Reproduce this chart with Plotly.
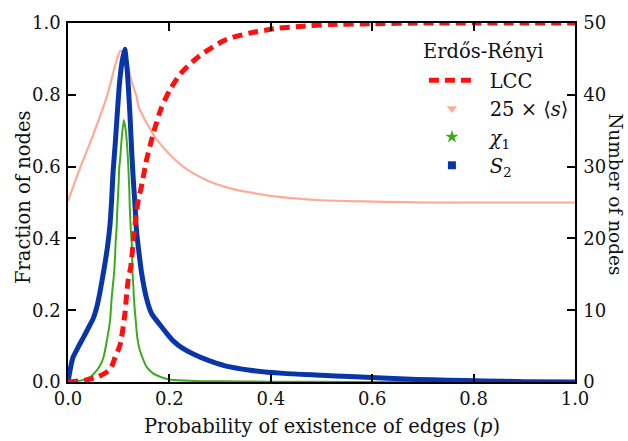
import plotly.graph_objects as go

# ---- data ----
lcc_p = [0, 0.034, 0.06, 0.083, 0.093, 0.103, 0.112, 0.116, 0.119, 0.124, 0.129, 0.135, 0.139, 0.145,
         0.155, 0.168, 0.183, 0.201, 0.221, 0.24, 0.26, 0.28, 0.306, 0.33, 0.359, 0.39, 0.412, 0.464,
         0.517, 0.6, 0.7, 0.8, 0.9, 1.0]
lcc_v = [0.0, 0.005, 0.015, 0.035, 0.069, 0.105, 0.187, 0.25, 0.287, 0.323, 0.396, 0.473, 0.51, 0.546,
         0.619, 0.691, 0.759, 0.814, 0.857, 0.885, 0.909, 0.928, 0.95, 0.962, 0.972, 0.98, 0.985, 0.991,
         0.996, 0.998, 1.0, 1.0, 1.0, 1.0]

s_p = [0, 0.024, 0.05, 0.076, 0.096, 0.104, 0.116, 0.125, 0.135, 0.139, 0.150, 0.162, 0.168, 0.185,
       0.201, 0.227, 0.25, 0.28, 0.293, 0.33, 0.359, 0.379, 0.42, 0.49, 0.55, 0.62, 0.7, 0.8, 0.9, 1.0]
s_v = [0.504, 0.597, 0.69, 0.792, 0.896, 0.923, 0.895, 0.84, 0.796, 0.768, 0.735, 0.705, 0.69, 0.658,
       0.633, 0.600, 0.579, 0.558, 0.551, 0.536, 0.528, 0.523, 0.515, 0.507, 0.504, 0.502, 0.5, 0.5, 0.5, 0.5]

chi_p = [0, 0.015, 0.03, 0.045, 0.057, 0.064, 0.07, 0.076, 0.083, 0.086, 0.088, 0.091, 0.093, 0.094,
         0.096, 0.097, 0.099, 0.100, 0.101, 0.103, 0.106, 0.110, 0.114, 0.117, 0.119, 0.121, 0.122,
         0.124, 0.126, 0.127, 0.129, 0.130, 0.133, 0.137, 0.142, 0.149, 0.155, 0.168, 0.185, 0.2,
         0.25, 0.3, 0.4, 0.5, 0.6, 0.73]
chi_v = [0.0, 0.002, 0.006, 0.015, 0.033, 0.048, 0.069, 0.11, 0.172, 0.232, 0.262, 0.305, 0.355, 0.39,
         0.432, 0.473, 0.528, 0.56, 0.596, 0.623, 0.68, 0.73, 0.70, 0.65, 0.6, 0.53, 0.48,
         0.42, 0.38, 0.314, 0.264, 0.232, 0.18, 0.12, 0.087, 0.06, 0.042, 0.024, 0.013, 0.007,
         0.003, 0.002, 0.001, 0.0005, 0.0002, 0.0]

s2_p = [0, 0.005, 0.01, 0.02, 0.03, 0.04, 0.05, 0.057, 0.063, 0.071, 0.078, 0.083, 0.086, 0.089, 0.093,
        0.096, 0.101, 0.106, 0.112, 0.116, 0.119, 0.122, 0.126, 0.129, 0.132, 0.135, 0.140, 0.145, 0.155,
        0.165, 0.181, 0.195, 0.208, 0.225, 0.247, 0.277, 0.31, 0.359, 0.425, 0.5, 0.556, 0.62, 0.688,
        0.75, 0.82, 0.9, 1.0]
s2_v = [0.0, 0.04, 0.069, 0.097, 0.123, 0.15, 0.178, 0.21, 0.25, 0.314, 0.378, 0.441, 0.505, 0.587, 0.66,
        0.723, 0.823, 0.886, 0.927, 0.88, 0.823, 0.75, 0.632, 0.559, 0.496, 0.423, 0.36, 0.305, 0.232,
        0.19, 0.16, 0.135, 0.114, 0.095, 0.078, 0.06, 0.045, 0.033, 0.024, 0.019, 0.015, 0.011, 0.007,
        0.005, 0.003, 0.001, 0.0]

x_ticks = [0.0, 0.2, 0.4, 0.6, 0.8, 1.0]
y_ticks = [0.0, 0.2, 0.4, 0.6, 0.8, 1.0]
y2_ticks = [0, 10, 20, 30, 40, 50]

legend_title = "Erdős-Rényi"
names = ["LCC", "25 × ⟨<i>s</i>⟩", "<i>χ</i><sub>1</sub>", "<i>S</i><sub>2</sub>"]

RED = "#FF1010"
SALMON = "#FFAA98"
GREEN = "#3DAA1E"
BLUE = "#0836A8"
FONT = "DejaVu Serif"
FS_TICK = 18
FS = 19.5
TXT = "#111111"
PAD = "\u2002"  # visual gap between legend symbol and label

fig = go.Figure()

fig.add_trace(go.Scatter(x=s_p, y=s_v, mode="lines", line=dict(color=SALMON, width=2.2, shape="spline",
                         smoothing=0.8), showlegend=False))
fig.add_trace(go.Scatter(x=chi_p, y=chi_v, mode="lines", line=dict(color=GREEN, width=2, shape="spline",
                         smoothing=0.5), showlegend=False))
fig.add_trace(go.Scatter(x=s2_p, y=s2_v, mode="lines", line=dict(color=BLUE, width=5, shape="spline",
                         smoothing=0.5), showlegend=False))
fig.add_trace(go.Scatter(x=lcc_p, y=lcc_v, mode="lines",
                         line=dict(color=RED, width=5, dash="10px,6px", shape="spline", smoothing=0.6),
                         showlegend=False))

# legend entries
fig.add_trace(go.Scatter(x=[None], y=[None], mode="lines", name=PAD + names[0], legendgroup="a",
                         line=dict(color=RED, width=5, dash="10px,6px")))
fig.add_trace(go.Scatter(x=[None], y=[None], mode="markers", name=PAD + names[1], legendgroup="b",
                         marker=dict(symbol="triangle-down", color=SALMON, size=9)))
fig.add_trace(go.Scatter(x=[None], y=[None], mode="markers", name=PAD + names[2], legendgroup="c",
                         marker=dict(symbol="star", color=GREEN, size=10)))
fig.add_trace(go.Scatter(x=[None], y=[None], mode="markers", name=PAD + names[3], legendgroup="d",
                         marker=dict(symbol="square", color=BLUE, size=8)))
# secondary axis carrier
fig.add_trace(go.Scatter(x=[None], y=[None], yaxis="y2", showlegend=False, hoverinfo="skip"))

axis_common = dict(showline=True, linecolor="black", linewidth=1.5, ticks="inside", ticklen=8,
                   tickwidth=1.5, tickcolor="black", showgrid=False, zeroline=False,
                   tickfont=dict(family=FONT, size=FS_TICK, color=TXT))

fig.update_layout(
    width=628, height=441,
    margin=dict(l=68, r=53, t=15, b=59),
    paper_bgcolor="white", plot_bgcolor="white",
    font=dict(family=FONT, size=FS, color=TXT),
    xaxis=dict(range=[0, 1], tickvals=x_ticks, ticktext=[f"{v:.1f}" for v in x_ticks],
               mirror="ticks", ticklabelstandoff=0, **axis_common),
    yaxis=dict(range=[0, 1], tickvals=y_ticks, ticktext=[f"{v:.1f}" for v in y_ticks],
               ticklabelstandoff=2, **axis_common),
    yaxis2=dict(range=[0, 50], tickvals=y2_ticks, overlaying="y", side="right",
                ticklabelstandoff=3, **axis_common),
    legend=dict(x=0.702, y=0.894, xanchor="left", yanchor="top", bgcolor="rgba(0,0,0,0)",
                font=dict(family=FONT, size=FS, color=TXT), itemwidth=46, traceorder="grouped",
                tracegroupgap=0),
    annotations=[
        dict(text=legend_title, xref="paper", yref="paper", x=(483 - 68) / 507, y=(382 - 44) / 367,
             xanchor="center", yanchor="middle", showarrow=False, font=dict(family=FONT, size=FS)),
        dict(text="Probability of existence of edges (<i>p</i>)", xref="paper", yref="paper",
             x=0.5, y=-0.125, xanchor="center", yanchor="middle", showarrow=False,
             font=dict(family=FONT, size=FS)),
        dict(text="Fraction of nodes", xref="paper", yref="paper", x=-0.089, y=0.515,
             xanchor="center", yanchor="middle", textangle=-90, showarrow=False,
             font=dict(family=FONT, size=FS)),
        dict(text="Number of nodes", xref="paper", yref="paper", x=1.081, y=0.523,
             xanchor="center", yanchor="middle", textangle=90, showarrow=False,
             font=dict(family=FONT, size=18.5)),
    ],
)

fig.write_html("out.html")
